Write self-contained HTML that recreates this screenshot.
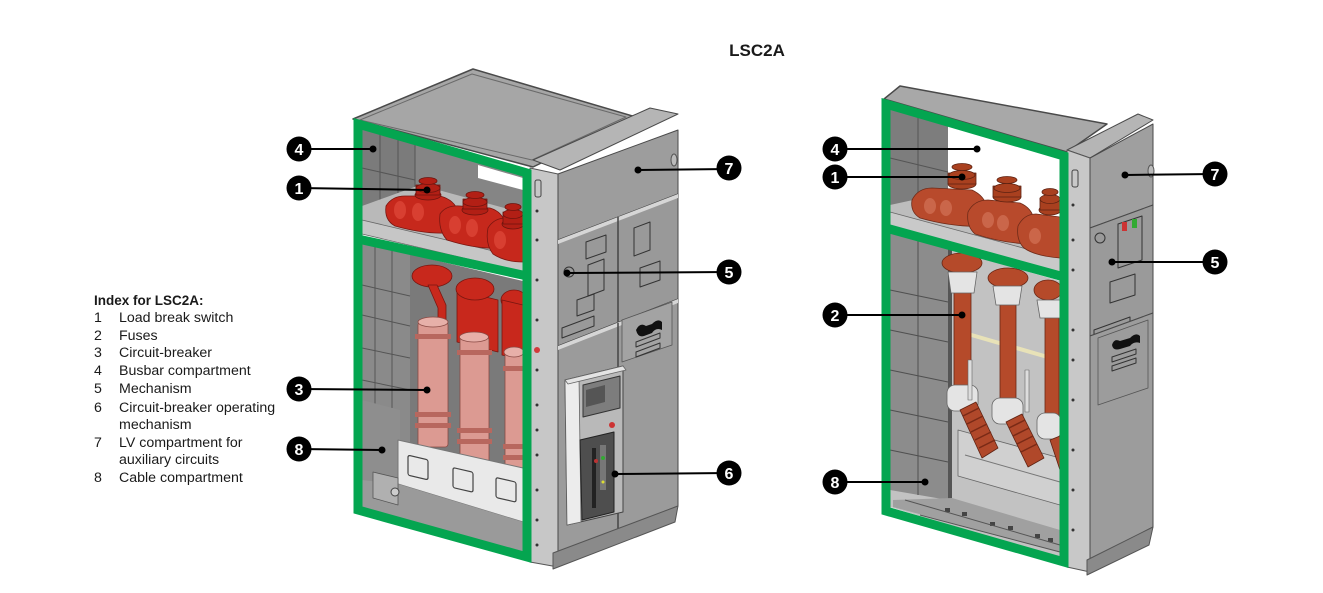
<!DOCTYPE html>
<html><head><meta charset="utf-8">
<style>
html,body{margin:0;padding:0;background:#fff;}
body{width:1323px;height:593px;overflow:hidden;position:relative;font-family:"Liberation Sans",sans-serif;}
svg{position:absolute;left:0;top:0;}
</style></head>
<body>
<svg width="1323" height="593" viewBox="0 0 1323 593" xmlns="http://www.w3.org/2000/svg">
<rect width="1323" height="593" fill="#fff"/>

<!-- Title -->
<text x="757" y="56" font-family="Liberation Sans, sans-serif" font-weight="bold" font-size="17" text-anchor="middle" fill="#1a1a1a">LSC2A</text>

<!-- Index -->
<g font-family="Liberation Sans, sans-serif" font-size="14.2" fill="#1a1a1a">
<text x="94" y="305" font-weight="bold" font-size="13.5">Index for LSC2A:</text>
<text x="94" y="322">1</text><text x="119" y="322">Load break switch</text>
<text x="94" y="340">2</text><text x="119" y="340">Fuses</text>
<text x="94" y="357">3</text><text x="119" y="357">Circuit-breaker</text>
<text x="94" y="375">4</text><text x="119" y="375">Busbar compartment</text>
<text x="94" y="393">5</text><text x="119" y="393">Mechanism</text>
<text x="94" y="412">6</text><text x="119" y="412">Circuit-breaker operating</text>
<text x="119" y="429">mechanism</text>
<text x="94" y="447">7</text><text x="119" y="447">LV compartment for</text>
<text x="119" y="464">auxiliary circuits</text>
<text x="94" y="482">8</text><text x="119" y="482">Cable compartment</text>
</g>

<!-- ================= LEFT CABINET ================= -->
<g stroke-linejoin="round">
<!-- top face -->
<polygon points="353,119 473,69 636,117 533,167" fill="#a6a6a6" stroke="#4a4a4a" stroke-width="1.5"/>
<polygon points="360,120 472,74 626,117 532,160" fill="none" stroke="#6a6a6a" stroke-width="1"/>
<!-- interior back (upper) -->
<polygon points="362,129 523,176 523,262 362,222" fill="#858585"/>
<polygon points="362,129 415,145 415,220 362,207" fill="#7b7b7b"/>
<g stroke="#555" stroke-width="1">
<line x1="380" y1="134" x2="380" y2="212"/><line x1="398" y1="139" x2="398" y2="216"/>
<line x1="415" y1="144" x2="415" y2="218"/><line x1="362" y1="168" x2="415" y2="180"/>
</g>
<polygon points="478,165 523,178 523,190 478,178" fill="#fff"/>
<!-- shelf floor -->
<polygon points="362,206 420,185 523,213 523,258 362,220" fill="#b9b9b9"/>
<polygon points="362,220 523,258 523,272 362,234" fill="#c6c6c6" stroke="#666" stroke-width="0.8"/>
<!-- red load break switch bodies -->
<g fill="#c6281c" stroke="#7a1610" stroke-width="0.8">
<path d="M386,206 Q392,196 405,196 L440,196 Q455,200 458,212 L458,232 Q430,236 395,226 Q384,220 386,206 Z"/>
<path d="M440,214 Q446,205 460,206 L490,208 Q503,212 505,224 L505,248 Q478,250 447,240 Q438,230 440,214 Z"/>
<path d="M488,228 Q494,218 506,218 L523,220 L523,262 Q505,262 493,254 Q485,244 488,228 Z"/>
</g>
<g fill="#b21f15" stroke="#6e140e" stroke-width="0.8">
<ellipse cx="428" cy="195" rx="13" ry="5"/><rect x="416" y="185" width="24" height="10"/>
<ellipse cx="428" cy="188" rx="12" ry="4.5"/><ellipse cx="428" cy="181" rx="9" ry="3.5"/>
<ellipse cx="475" cy="210" rx="13" ry="5"/><rect x="463" y="199" width="24" height="10"/>
<ellipse cx="475" cy="202" rx="12" ry="4.5"/><ellipse cx="475" cy="195" rx="9" ry="3.5"/>
<ellipse cx="513" cy="224" rx="11" ry="5"/><rect x="503" y="212" width="20" height="12"/>
<ellipse cx="513" cy="214" rx="10" ry="4.5"/><ellipse cx="513" cy="207" rx="8" ry="3.5"/>
</g>
<g fill="#e04a3a" opacity="0.7">
<ellipse cx="400" cy="210" rx="6" ry="9"/><ellipse cx="418" cy="212" rx="6" ry="9"/>
<ellipse cx="455" cy="225" rx="6" ry="9"/><ellipse cx="472" cy="228" rx="6" ry="9"/>
<ellipse cx="500" cy="240" rx="6" ry="9"/>
</g>

<!-- lower compartment interior -->
<polygon points="362,243 523,281 523,554 362,508" fill="#7a7a7a"/>
<polygon points="362,243 410,254 410,500 362,488" fill="#8a8a8a"/>
<g stroke="#555" stroke-width="1" fill="none">
<line x1="375" y1="247" x2="375" y2="490"/><line x1="392" y1="251" x2="392" y2="494"/>
<line x1="362" y1="285" x2="410" y2="296"/><line x1="362" y1="315" x2="410" y2="326"/>
<line x1="362" y1="348" x2="410" y2="358"/><line x1="362" y1="380" x2="410" y2="390"/>
</g>
<polygon points="362,400 400,410 400,500 362,490" fill="#8e8e8e"/>
<!-- red tops / connections -->
<g fill="#c8281c" stroke="#7a1610" stroke-width="0.8">
<polygon points="457,290 498,300 498,352 457,342"/>
<ellipse cx="432" cy="276" rx="20" ry="11"/>
<ellipse cx="475" cy="289" rx="19" ry="11"/>
<ellipse cx="514" cy="300" rx="13" ry="10"/>
<polygon points="502,300 523,305 523,360 502,355"/>
<polygon points="428,285 437,285 446,305 446,325 438,325 438,308"/>
</g>
<!-- pink CB poles -->
<g fill="#dc9a92" stroke="#8a4a44" stroke-width="0.8">
<rect x="418" y="322" width="30" height="125" rx="3"/>
<ellipse cx="433" cy="322" rx="15" ry="5" fill="#e7b0a9"/>
<rect x="460" y="337" width="29" height="128" rx="3"/>
<ellipse cx="474" cy="337" rx="14.5" ry="5" fill="#e7b0a9"/>
<rect x="505" y="352" width="18" height="130"/>
<ellipse cx="514" cy="352" rx="10" ry="5" fill="#e7b0a9"/>
</g>
<g fill="#b8675e">
<rect x="415" y="334" width="36" height="5"/><rect x="415" y="412" width="36" height="5"/><rect x="415" y="423" width="36" height="5"/>
<rect x="457" y="350" width="35" height="5"/><rect x="457" y="428" width="35" height="5"/><rect x="457" y="439" width="35" height="5"/>
<rect x="503" y="366" width="20" height="5"/><rect x="503" y="444" width="20" height="5"/><rect x="503" y="455" width="20" height="5"/>
</g>
<!-- white CB base -->
<polygon points="398,440 523,468 523,522 398,484" fill="#e9e9e9" stroke="#777" stroke-width="1"/>
<g fill="none" stroke="#444" stroke-width="1.2">
<rect x="408" y="456" width="20" height="20" rx="2" transform="skewY(13) translate(0,-95)"/>
<rect x="453" y="468" width="20" height="20" rx="2" transform="skewY(13) translate(0,-105)"/>
<rect x="496" y="478" width="20" height="20" rx="2" transform="skewY(13) translate(0,-115)"/>
</g>
<polygon points="362,480 398,484 523,522 523,554 362,508" fill="#9a9a9a"/>
<polygon points="373,472 398,478 398,505 373,498" fill="#b0b0b0" stroke="#555" stroke-width="0.8"/>
<circle cx="395" cy="492" r="4" fill="#ccc" stroke="#444"/>

<!-- LV box top -->
<polygon points="533,160 650,108 678,114 560,170" fill="#b5b5b5" stroke="#4a4a4a" stroke-width="1"/>
<!-- front pillar -->
<polygon points="530,168 558,174 558,567 530,562" fill="#c7c7c7" stroke="#555" stroke-width="1"/>
<g fill="#333">
<rect x="535" y="180" width="6" height="17" rx="2" fill="none" stroke="#444"/>
<circle cx="537" cy="211" r="1.5"/><circle cx="537" cy="240" r="1.5"/><circle cx="537" cy="280" r="1.5"/>
<circle cx="537" cy="320" r="1.5"/><circle cx="537" cy="370" r="1.5"/><circle cx="537" cy="405" r="1.5"/>
<circle cx="537" cy="430" r="1.5"/><circle cx="537" cy="455" r="1.5"/><circle cx="537" cy="490" r="1.5"/>
<circle cx="537" cy="520" r="1.5"/><circle cx="537" cy="545" r="1.5"/>
</g>
<circle cx="537" cy="350" r="3" fill="#d23a3a"/>
<!-- LV panel -->
<polygon points="558,174 678,130 678,194 558,240" fill="#9d9d9d" stroke="#4a4a4a" stroke-width="1"/>
<ellipse cx="674" cy="160" rx="3" ry="6" fill="#bbb" stroke="#555"/>
<!-- mechanism panels -->
<polygon points="558,240 678,194 678,299 558,346" fill="#999" stroke="#4a4a4a" stroke-width="1"/>
<polygon points="558,240 678,194 678,198 558,244" fill="#d6d6d6"/>
<line x1="618" y1="217" x2="618" y2="323" stroke="#444" stroke-width="1.5"/>
<g fill="none" stroke="#333" stroke-width="1">
<polygon points="586,242 606,235 606,252 586,259"/>
<polygon points="588,265 604,259 604,290 588,296"/>
<polygon points="577,300 594,294 594,310 577,316"/>
<polygon points="634,228 650,222 650,250 634,256"/>
<polygon points="640,268 660,261 660,280 640,287"/>
<circle cx="569" cy="272" r="5"/>
<polygon points="562,328 594,316 594,326 562,338"/>
</g>
<!-- lower panels -->
<polygon points="558,346 678,299 678,506 558,553" fill="#9b9b9b" stroke="#4a4a4a" stroke-width="1"/>
<polygon points="558,346 678,299 678,303 558,350" fill="#d6d6d6"/>
<line x1="618" y1="323" x2="618" y2="530" stroke="#444" stroke-width="1.5"/>
<polygon points="622,320 672,302 672,345 622,362" fill="#a3a3a3" stroke="#555" stroke-width="0.8"/>
<path d="M636,330 Q640,322 646,326 L652,324 Q658,318 662,322 L662,330 Q656,327 652,333 L644,336 Q638,338 636,330 Z" fill="#111"/>
<polygon points="636,342 660,333 660,338 636,347" fill="none" stroke="#333"/>
<polygon points="636,352 660,343 660,348 636,357" fill="none" stroke="#333"/>
<!-- CB operating mechanism -->
<polygon points="565,380 623,366 623,512 567,525" fill="#b9b9b9" stroke="#444" stroke-width="1"/>
<polygon points="565,380 579,377 581,522 567,525" fill="#ececec" stroke="#666" stroke-width="0.8"/>
<polygon points="565,380 623,366 626,370 568,384" fill="#e4e4e4" stroke="#666" stroke-width="0.8"/>
<polygon points="583,385 620,376 620,408 583,417" fill="#7d7d7d" stroke="#333"/>
<polygon points="586,390 605,385 605,402 586,407" fill="#555"/>
<polygon points="580,440 614,432 614,512 582,520" fill="#4e4e4e" stroke="#222"/>
<rect x="592" y="448" width="4" height="60" fill="#222"/>
<rect x="600" y="445" width="6" height="45" fill="#777"/>
<circle cx="596" cy="461" r="2" fill="#b33"/><circle cx="603" cy="458" r="2" fill="#3a3"/>
<circle cx="603" cy="482" r="1.5" fill="#dd3"/>
<circle cx="612" cy="425" r="3" fill="#c33"/>
<!-- base -->
<polygon points="553,553 678,506 675,522 553,569" fill="#8a8a8a" stroke="#555" stroke-width="1"/>

<!-- green frame left -->
<g fill="none" stroke="#04a550" stroke-width="9" stroke-linejoin="miter">
<polygon points="358,124 527,173 527,557 358,510"/>
<line x1="358" y1="239" x2="527" y2="276"/>
</g>
</g>

<!-- ================= RIGHT CABINET ================= -->
<g stroke-linejoin="round">
<!-- top -->
<polygon points="884,99 900,86 1107,124 1067,152" fill="#a8a8a8" stroke="#4a4a4a" stroke-width="1.5"/>
<!-- upper interior white + left panels -->
<polygon points="890,108 1060,159 1060,273 890,226" fill="#fff"/>
<polygon points="890,108 948,125 948,208 890,205" fill="#7d7d7d"/>
<g stroke="#555" stroke-width="1">
<line x1="918" y1="116" x2="918" y2="206"/><line x1="890" y1="158" x2="948" y2="172"/>
</g>
<!-- shelf -->
<polygon points="890,205 950,192 1060,225 1060,258 890,212" fill="#bdbdbd"/>
<polygon points="890,212 1060,258 1060,272 890,226" fill="#c9c9c9" stroke="#666" stroke-width="0.8"/>
<!-- brown insulators -->
<g fill="#b84a2c" stroke="#6e2a18" stroke-width="0.8">
<path d="M912,200 Q918,188 932,188 L972,190 Q985,196 987,208 L987,226 Q955,228 920,218 Q910,212 912,200 Z"/>
<path d="M968,212 Q974,200 988,200 L1020,203 Q1032,208 1034,220 L1034,244 Q1005,244 975,234 Q966,226 968,212 Z"/>
<path d="M1018,226 Q1024,214 1036,214 L1060,217 L1060,258 Q1035,256 1024,248 Q1016,240 1018,226 Z"/>
</g>
<g fill="#a9401f" stroke="#5e2212" stroke-width="0.8">
<ellipse cx="962" cy="184" rx="14" ry="5"/><rect x="948" y="173" width="28" height="11"/>
<ellipse cx="962" cy="175" rx="13" ry="4.5"/><ellipse cx="962" cy="167" rx="10" ry="3.5"/>
<ellipse cx="1007" cy="197" rx="14" ry="5"/><rect x="993" y="186" width="28" height="11"/>
<ellipse cx="1007" cy="188" rx="13" ry="4.5"/><ellipse cx="1007" cy="180" rx="10" ry="3.5"/>
<ellipse cx="1050" cy="210" rx="11" ry="5"/><rect x="1040" y="198" width="20" height="12"/>
<ellipse cx="1050" cy="199" rx="10" ry="4.5"/><ellipse cx="1050" cy="192" rx="8" ry="3.5"/>
</g>
<g fill="#d77a5e" opacity="0.6">
<ellipse cx="930" cy="206" rx="6" ry="8"/><ellipse cx="946" cy="208" rx="6" ry="8"/>
<ellipse cx="988" cy="220" rx="6" ry="8"/><ellipse cx="1003" cy="223" rx="6" ry="8"/>
<ellipse cx="1035" cy="236" rx="6" ry="8"/>
</g>
<!-- lower interior -->
<polygon points="890,232 1060,281 1060,558 890,507" fill="#c2c2c2"/>
<polygon points="890,232 948,249 948,500 890,490" fill="#8c8c8c"/>
<g stroke="#4f4f4f" stroke-width="1" fill="none">
<line x1="918" y1="240" x2="918" y2="495"/>
<line x1="890" y1="290" x2="948" y2="302"/><line x1="890" y1="330" x2="948" y2="342"/>
<line x1="890" y1="370" x2="948" y2="382"/><line x1="890" y1="410" x2="948" y2="422"/>
<line x1="890" y1="450" x2="948" y2="462"/>
</g>
<polygon points="948,249 952,250 952,498 948,500" fill="#555"/>
<!-- beige bar -->
<line x1="968" y1="334" x2="1058" y2="360" stroke="#e8e2b8" stroke-width="4"/>
<!-- earthing plate -->
<polygon points="958,430 1060,458 1060,505 958,476" fill="#d0d0d0" stroke="#666" stroke-width="0.8"/>
<line x1="965" y1="455" x2="1060" y2="482" stroke="#777" stroke-width="1"/>
<!-- floor with clamps -->
<polygon points="893,500 952,498 1060,530 1060,552 893,507" fill="#a0a0a0"/>
<g fill="#444">
<rect x="945" y="508" width="5" height="4"/><rect x="962" y="512" width="5" height="4"/>
<rect x="990" y="522" width="5" height="4"/><rect x="1008" y="526" width="5" height="4"/>
<rect x="1035" y="534" width="5" height="4"/><rect x="1048" y="538" width="5" height="4"/>
</g>
<g stroke="#555" stroke-width="1"><line x1="905" y1="500" x2="1060" y2="545"/><line x1="920" y1="515" x2="1060" y2="552"/></g>
<!-- fuses -->
<g fill="#b54a2a" stroke="#6a2614" stroke-width="0.8">
<ellipse cx="962" cy="263" rx="20" ry="10"/>
<ellipse cx="1008" cy="278" rx="20" ry="10"/>
<ellipse cx="1048" cy="290" rx="14" ry="10"/>
<rect x="954" y="285" width="17" height="108"/>
<rect x="1000" y="298" width="16" height="108"/>
<rect x="1045" y="310" width="14" height="112"/>
</g>
<g fill="#e4e4e4" stroke="#666" stroke-width="0.8">
<path d="M948,272 L977,272 L974,293 L951,293 Z"/>
<path d="M993,286 L1022,286 L1019,305 L996,305 Z"/>
<path d="M1037,300 L1060,300 L1060,318 L1040,318 Z"/>
<rect x="947" y="385" width="31" height="26" rx="8"/>
<rect x="992" y="398" width="31" height="26" rx="8"/>
<rect x="1037" y="413" width="24" height="26" rx="8"/>
</g>
<!-- spiral terminations -->
<g fill="#b0482a" stroke="#5e2212" stroke-width="0.8">
<polygon points="960,410 976,402 998,448 982,458"/>
<polygon points="1006,422 1022,414 1044,458 1028,467"/>
<polygon points="1050,440 1060,436 1060,470"/>
</g>
<g stroke="#7a2a16" stroke-width="1.5">
<line x1="963" y1="416" x2="979" y2="408"/><line x1="967" y1="424" x2="983" y2="416"/>
<line x1="971" y1="432" x2="987" y2="424"/><line x1="975" y1="440" x2="991" y2="432"/>
<line x1="979" y1="448" x2="995" y2="440"/>
<line x1="1009" y1="428" x2="1025" y2="420"/><line x1="1013" y1="436" x2="1029" y2="428"/>
<line x1="1017" y1="444" x2="1033" y2="436"/><line x1="1021" y1="452" x2="1037" y2="444"/>
</g>
<rect x="968" y="360" width="4" height="40" fill="#ddd" stroke="#666" stroke-width="0.6"/>
<rect x="1025" y="370" width="4" height="42" fill="#ddd" stroke="#666" stroke-width="0.6"/>

<!-- LV box top -->
<polygon points="1067,150 1138,114 1153,120 1090,158" fill="#b5b5b5" stroke="#4a4a4a" stroke-width="1"/>
<!-- pillar -->
<polygon points="1067,150 1090,158 1090,572 1067,567" fill="#c8c8c8" stroke="#555" stroke-width="1"/>
<rect x="1072" y="170" width="6" height="17" rx="2" fill="none" stroke="#444"/>
<g fill="#333">
<circle cx="1073" cy="205" r="1.5"/><circle cx="1073" cy="240" r="1.5"/><circle cx="1073" cy="270" r="1.5"/>
<circle cx="1073" cy="330" r="1.5"/><circle cx="1073" cy="360" r="1.5"/><circle cx="1073" cy="400" r="1.5"/>
<circle cx="1073" cy="450" r="1.5"/><circle cx="1073" cy="490" r="1.5"/><circle cx="1073" cy="530" r="1.5"/>
</g>
<!-- LV panel -->
<polygon points="1090,158 1153,124 1153,205 1090,228" fill="#9f9f9f" stroke="#4a4a4a" stroke-width="1"/>
<ellipse cx="1151" cy="171" rx="3" ry="6" fill="#bbb" stroke="#555"/>
<!-- mechanism -->
<polygon points="1090,228 1153,205 1153,313 1090,336" fill="#9a9a9a" stroke="#4a4a4a" stroke-width="1"/>
<g fill="none" stroke="#333" stroke-width="1">
<circle cx="1100" cy="238" r="5"/>
<polygon points="1118,224 1142,216 1142,260 1118,268"/>
<polygon points="1110,282 1135,274 1135,295 1110,303"/>
<polygon points="1094,330 1130,317 1130,326 1094,339"/>
</g>
<rect x="1122" y="222" width="5" height="9" fill="#c33"/>
<rect x="1132" y="219" width="5" height="9" fill="#3a3"/>
<!-- lower door -->
<polygon points="1090,336 1153,313 1153,527 1090,560" fill="#9c9c9c" stroke="#4a4a4a" stroke-width="1"/>
<polygon points="1098,338 1148,320 1148,388 1098,405" fill="none" stroke="#555" stroke-width="0.8"/>
<path d="M1112,345 Q1114,338 1120,341 L1130,338 Q1136,332 1140,336 L1140,343 Q1134,341 1130,346 L1120,349 Q1113,351 1112,345 Z" fill="#111"/>
<polygon points="1112,357 1136,349 1136,354 1112,362" fill="none" stroke="#333"/>
<polygon points="1112,366 1136,358 1136,363 1112,371" fill="none" stroke="#333"/>
<!-- base -->
<polygon points="1087,560 1153,527 1149,545 1087,575" fill="#8a8a8a" stroke="#555" stroke-width="1"/>

<!-- green frame right -->
<g fill="none" stroke="#04a550" stroke-width="9" stroke-linejoin="miter">
<polygon points="886,104 1064,156 1064,562 886,511"/>
<line x1="886" y1="228" x2="1064" y2="277"/>
</g>
</g>

<!-- ================= CALLOUTS ================= -->
<g stroke="#000" stroke-width="2">
<line x1="299" y1="149" x2="373" y2="149"/>
<line x1="299" y1="188" x2="427" y2="190"/>
<line x1="638" y1="170" x2="729" y2="169"/>
<line x1="567" y1="273" x2="729" y2="272"/>
<line x1="299" y1="389" x2="427" y2="390"/>
<line x1="299" y1="449" x2="382" y2="450"/>
<line x1="615" y1="474" x2="729" y2="473"/>
<line x1="835" y1="149" x2="977" y2="149"/>
<line x1="835" y1="177" x2="962" y2="177"/>
<line x1="1125" y1="175" x2="1214" y2="174"/>
<line x1="1112" y1="262" x2="1214" y2="262"/>
<line x1="835" y1="315" x2="962" y2="315"/>
<line x1="835" y1="482" x2="925" y2="482"/>
</g>
<g fill="#000">
<circle cx="373" cy="149" r="3.5"/><circle cx="427" cy="190" r="3.5"/><circle cx="638" cy="170" r="3.5"/>
<circle cx="567" cy="273" r="3.5"/><circle cx="427" cy="390" r="3.5"/><circle cx="382" cy="450" r="3.5"/>
<circle cx="615" cy="474" r="3.5"/>
<circle cx="977" cy="149" r="3.5"/><circle cx="962" cy="177" r="3.5"/><circle cx="1125" cy="175" r="3.5"/>
<circle cx="1112" cy="262" r="3.5"/><circle cx="962" cy="315" r="3.5"/><circle cx="925" cy="482" r="3.5"/>
</g>
<g fill="#000">
<circle cx="299" cy="149" r="12.5"/><circle cx="299" cy="188" r="12.5"/><circle cx="729" cy="168" r="12.5"/>
<circle cx="729" cy="272" r="12.5"/><circle cx="299" cy="389" r="12.5"/><circle cx="299" cy="449" r="12.5"/>
<circle cx="729" cy="473" r="12.5"/>
<circle cx="835" cy="149" r="12.5"/><circle cx="835" cy="177" r="12.5"/><circle cx="1215" cy="174" r="12.5"/>
<circle cx="1215" cy="262" r="12.5"/><circle cx="835" cy="315" r="12.5"/><circle cx="835" cy="482" r="12.5"/>
</g>
<g fill="#fff" font-family="Liberation Sans, sans-serif" font-weight="bold" font-size="16" text-anchor="middle">
<text x="299" y="155">4</text><text x="299" y="194">1</text><text x="729" y="174">7</text>
<text x="729" y="278">5</text><text x="299" y="395">3</text><text x="299" y="455">8</text>
<text x="729" y="479">6</text>
<text x="835" y="155">4</text><text x="835" y="183">1</text><text x="1215" y="180">7</text>
<text x="1215" y="268">5</text><text x="835" y="321">2</text><text x="835" y="488">8</text>
</g>
</svg>
</body></html>
